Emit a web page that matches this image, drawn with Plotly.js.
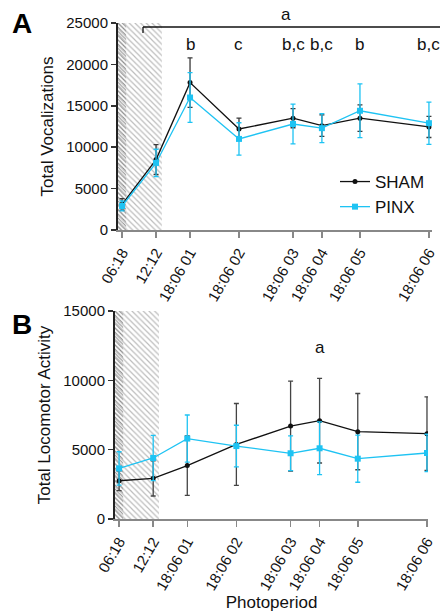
<!DOCTYPE html>
<html>
<head>
<meta charset="utf-8">
<script src="https://cdn.plot.ly/plotly-3.0.1.min.js"></script>
<style>html,body{margin:0;padding:0;background:#fff;}#chart{width:440px;height:614px;}</style>
</head>
<body>
<div id="chart"></div>
<script>
// ---- data ----
const categories = ['06:18', '12:12', '18:06 01', '18:06 02', '18:06 03', '18:06 04', '18:06 05', '18:06 06'];
const sampleTime = [0, 1, 2, 3.44, 5.03, 5.88, 7.0, 9.03];
const shamVoc    = [3100, 8500, 17800, 12200, 13500, 12600, 13500, 12450];
const shamVocErr = [700, 1800, 3000, 1300, 1150, 1300, 1600, 1280];
const pinxVoc    = [2900, 8100, 16000, 11000, 12800, 12300, 14400, 12900];
const pinxVocErr = [600, 1650, 3000, 1950, 2400, 1750, 3250, 2550];
const shamLoc    = [2760, 2930, 3850, 5380, 6700, 7090, 6300, 6150];
const shamLocErr = [720, 1270, 2150, 2950, 3250, 3050, 2750, 2650];
const pinxLoc    = [3650, 4400, 5800, 5260, 4740, 5100, 4350, 4760];
const pinxLocErr = [1200, 1630, 1700, 1500, 1250, 1900, 1700, 1350];
const vocLetters = ['', '', 'b', 'c', 'b,c', 'b,c', 'b', 'b,c'];
const vocTicks = [0, 5000, 10000, 15000, 20000, 25000];
const locTicks = [0, 5000, 10000, 15000];
const lightPeriodEnd = 1.17;
const shortPeriodEnd = 0.12;

const FONT = 'Liberation Sans, Arial, sans-serif';
const BLACK = '#111';
const CYAN = '#1ec3f3';

function hatch(xa, ya, ymax, x1, fg, size) {
  return {
    type: 'bar', x: [(x1 - 0.12) / 2], y: [ymax], width: [x1 + 0.12],
    xaxis: xa, yaxis: ya, showlegend: false, hoverinfo: 'skip',
    marker: {color: 'rgba(255,255,255,0)', line: {width: 0},
      pattern: {shape: '\\', fgcolor: fg, bgcolor: 'rgba(255,255,255,0)', size: size, solidity: 0.3}}
  };
}
function series(name, y, err, color, errColor, symbol, size, xa, ya, showlegend) {
  return {
    type: 'scatter', mode: 'lines+markers', name: name, x: sampleTime, y: y,
    xaxis: xa, yaxis: ya, showlegend: showlegend,
    line: {color: color, width: 1.3},
    marker: {color: color, symbol: symbol, size: size},
    error_y: {type: 'data', array: err, visible: true, color: errColor, thickness: 1.3, width: 2.5}
  };
}

const data = [
  hatch('x', 'y', 25000, lightPeriodEnd, '#bdbdbd', 4),
  hatch('x', 'y', 25000, shortPeriodEnd, '#8a8a8a', 3),
  hatch('x2', 'y2', 15000, lightPeriodEnd, '#bdbdbd', 4),
  hatch('x2', 'y2', 15000, shortPeriodEnd, '#8a8a8a', 3),
  series('SHAM', shamVoc, shamVocErr, BLACK, '#3a3a3a', 'circle', 5, 'x', 'y', true),
  series('PINX', pinxVoc, pinxVocErr, CYAN, CYAN, 'square', 6, 'x', 'y', true),
  series('SHAM', shamLoc, shamLocErr, BLACK, '#444', 'circle', 5, 'x2', 'y2', false),
  series('PINX', pinxLoc, pinxLocErr, CYAN, CYAN, 'square', 6, 'x2', 'y2', false)
];

const xCommon = {
  type: 'linear', tickmode: 'array', tickvals: sampleTime, ticktext: categories,
  tickangle: -60, ticks: 'outside', ticklen: 6, tickwidth: 1.5, tickcolor: '#888',
  showline: true, linecolor: '#888', linewidth: 2, showgrid: false, zeroline: false,
  tickfont: {family: FONT, size: 15, color: '#111'}
};
const yCommon = {
  ticks: 'outside', ticklen: 5, tickwidth: 1.5, tickcolor: '#333',
  showline: true, linecolor: '#222', linewidth: 2, showgrid: false, zeroline: false,
  tickformat: 'd', tickfont: {family: FONT, size: 15, color: '#111'}
};

const ann = [];
const annFont = {family: FONT, size: 17, color: '#111'};
vocLetters.forEach((t, i) => {
  if (t) ann.push({text: t, x: sampleTime[i], xref: 'x', y: 1 - 44 / 614, yref: 'paper',
    showarrow: false, font: annFont, xanchor: 'center', yanchor: 'middle'});
});
ann.push({text: 'a', x: 4.82, xref: 'x', y: 1 - 14 / 614, yref: 'paper', showarrow: false, font: annFont,
  xanchor: 'center', yanchor: 'middle'});
ann.push({text: 'a', x: sampleTime[5], xref: 'x2', y: 1 - 347 / 614, yref: 'paper', showarrow: false, font: annFont,
  xanchor: 'center', yanchor: 'middle'});
ann.push({text: '<b>A</b>', x: 10 / 440, y: 1 - 23 / 614, xref: 'paper', yref: 'paper', showarrow: false,
  xanchor: 'left', yanchor: 'middle', font: {family: FONT, size: 28, color: '#000'}});
ann.push({text: '<b>B</b>', x: 10 / 440, y: 1 - 324 / 614, xref: 'paper', yref: 'paper', showarrow: false,
  xanchor: 'left', yanchor: 'middle', font: {family: FONT, size: 28, color: '#000'}});

const layout = {
  width: 440, height: 614, margin: {l: 0, r: 0, t: 0, b: 0},
  paper_bgcolor: '#fff', plot_bgcolor: 'rgba(0,0,0,0)',
  font: {family: FONT, color: '#111'},
  barmode: 'overlay',
  xaxis: Object.assign({}, xCommon, {domain: [118 / 440, 432 / 440], range: [-0.12, 9.12], anchor: 'y'}),
  yaxis: Object.assign({}, yCommon, {domain: [1 - 230 / 614, 1 - 23 / 614], range: [0, 25000], anchor: 'x',
    tickvals: vocTicks,
    title: {text: 'Total Vocalizations', font: {family: FONT, size: 17, color: '#111'}, standoff: 8}}),
  xaxis2: Object.assign({}, xCommon, {domain: [115 / 440, 428 / 440], range: [-0.12, 9.06], anchor: 'y2',
    title: {text: 'Photoperiod', font: {family: FONT, size: 17, color: '#111'}, standoff: 4}}),
  yaxis2: Object.assign({}, yCommon, {domain: [1 - 519 / 614, 1 - 311 / 614], range: [0, 15000], anchor: 'x2',
    tickvals: locTicks,
    title: {text: 'Total Locomotor Activity', font: {family: FONT, size: 17, color: '#111'}, standoff: 8}}),
  showlegend: true,
  legend: {x: 335 / 440, y: 1 - 164 / 614, xanchor: 'left', yanchor: 'top', bgcolor: 'rgba(0,0,0,0)',
    font: {family: FONT, size: 17, color: '#111'}, tracegroupgap: 8, itemwidth: 30},
  annotations: ann,
  shapes: [
    {type: 'line', xref: 'paper', yref: 'paper', x0: 143 / 440, x1: 1, y0: 1 - 27 / 614, y1: 1 - 27 / 614,
      line: {color: '#111', width: 1.3}},
    {type: 'line', xref: 'paper', yref: 'paper', x0: 143 / 440, x1: 143 / 440, y0: 1 - 27 / 614, y1: 1 - 33 / 614,
      line: {color: '#111', width: 1.3}}
  ]
};

Plotly.newPlot('chart', data, layout, {displayModeBar: false, staticPlot: true});
</script>
</body>
</html>
